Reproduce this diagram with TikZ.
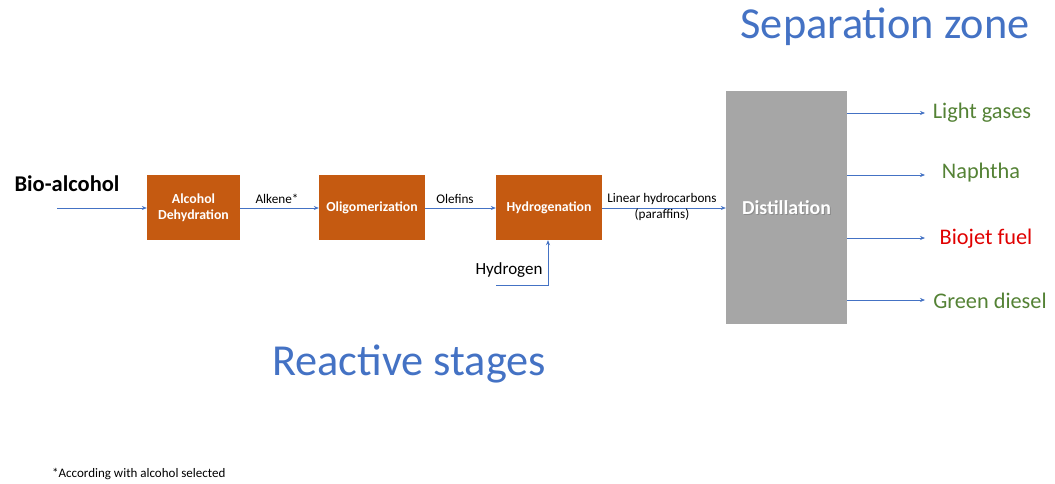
\documentclass[tikz,border=0pt]{standalone}
\usepackage{fontspec}
\setmainfont{Carlito}
\usetikzlibrary{arrows.meta,calc}
\definecolor{boxor}{HTML}{C55A11}
\definecolor{distg}{HTML}{A6A6A6}
\definecolor{arrb}{HTML}{4472C4}
\definecolor{titb}{HTML}{4472C4}
\definecolor{prodg}{HTML}{548235}
\definecolor{prodr}{HTML}{E00000}
\tikzset{
  x=1pt,y=-1pt,
  reactbox/.style={fill=boxor,draw=none,text=white,font=\bfseries\fontsize{13.8}{16}\selectfont,align=center,inner sep=0pt},
  flow/.style={draw=arrb,line width=0.6pt,-{Stealth[length=5pt,width=4pt]}},
  flowlbl/.style={font=\fontsize{13.2}{15.5}\selectfont,align=center,inner sep=1pt},
  prod/.style={font=\fontsize{22.3}{26}\selectfont,anchor=center,inner sep=0pt},
  title/.style={font=\fontsize{44.3}{50}\selectfont,text=titb,inner sep=0pt}
}
\begin{document}
\begin{tikzpicture}
\useasboundingbox (0,0) rectangle (1055,483);
% boxes
\node[reactbox,minimum width=93pt,minimum height=65pt] (dehy) at (193.5,207.5) {Alcohol\\Dehydration};
\node[reactbox,minimum width=106pt,minimum height=65pt] (olig) at (372,207.5) {Oligomerization};
\node[reactbox,minimum width=106pt,minimum height=65pt] (hydro) at (549,207.5) {Hydrogenation};
\node[fill=distg,minimum width=121pt,minimum height=233pt,inner sep=0pt] (dist) at (786.5,207.5) {};
\node[text=black!45,font=\bfseries\fontsize{19.8}{23}\selectfont] at ($(dist.center)+(1,1)$) {Distillation};
\node[text=white,font=\bfseries\fontsize{19.8}{23}\selectfont] (distlbl) at (dist.center) {Distillation};
% input
\node[font=\bfseries\fontsize{22.5}{26}\selectfont,inner sep=0pt] (bio) at (67,184) {Bio-alcohol};
\coordinate (bioin) at (57,208);
\draw[flow] (bioin) -- (dehy.west |- bioin);
\draw[flow] (dehy.east |- bioin) -- (olig.west |- bioin);
\draw[flow] (olig.east |- bioin) -- (hydro.west |- bioin);
\draw[flow] (hydro.east |- bioin) -- (dist.west |- bioin);
\node[flowlbl] (alk) at (277,199) {Alkene*};
\node[flowlbl] (olef) at (455,199) {Olefins};
\node[flowlbl] (lin) at (662,207) {Linear hydrocarbons\\(paraffins)};
% hydrogen
\node[font=\fontsize{17}{20}\selectfont,inner sep=0pt] (h2) at (509,270) {Hydrogen};
\coordinate (h2s) at (496,285);
\coordinate (h2c) at (548,285);
\draw[flow] (h2s) -- (h2c) -- (h2c |- hydro.south);
% products
\node[prod,text=prodg] (lg) at (982,113) {Light gases};
\node[prod,text=prodg] (nap) at (981,173) {Naphtha};
\node[prod,text=prodr] (bjf) at (986,239) {Biojet fuel};
\node[prod,text=prodg] (gd) at (990,301) {Green diesel};
\coordinate (e1) at (925,113);
\coordinate (e2) at (925,175);
\coordinate (e3) at (925,238);
\coordinate (e4) at (925,300);
\draw[flow] (dist.east |- e1) -- (e1);
\draw[flow] (dist.east |- e2) -- (e2);
\draw[flow] (dist.east |- e3) -- (e3);
\draw[flow] (dist.east |- e4) -- (e4);
% titles
\node[title] (sep) at (885,27) {Separation zone};
\node[title] (rea) at (409,364) {Reactive stages};
\node[font=\fontsize{13}{15}\selectfont,anchor=west,inner sep=0pt] (foot) at (52,474) {*According with alcohol selected};
\end{tikzpicture}
\end{document}
